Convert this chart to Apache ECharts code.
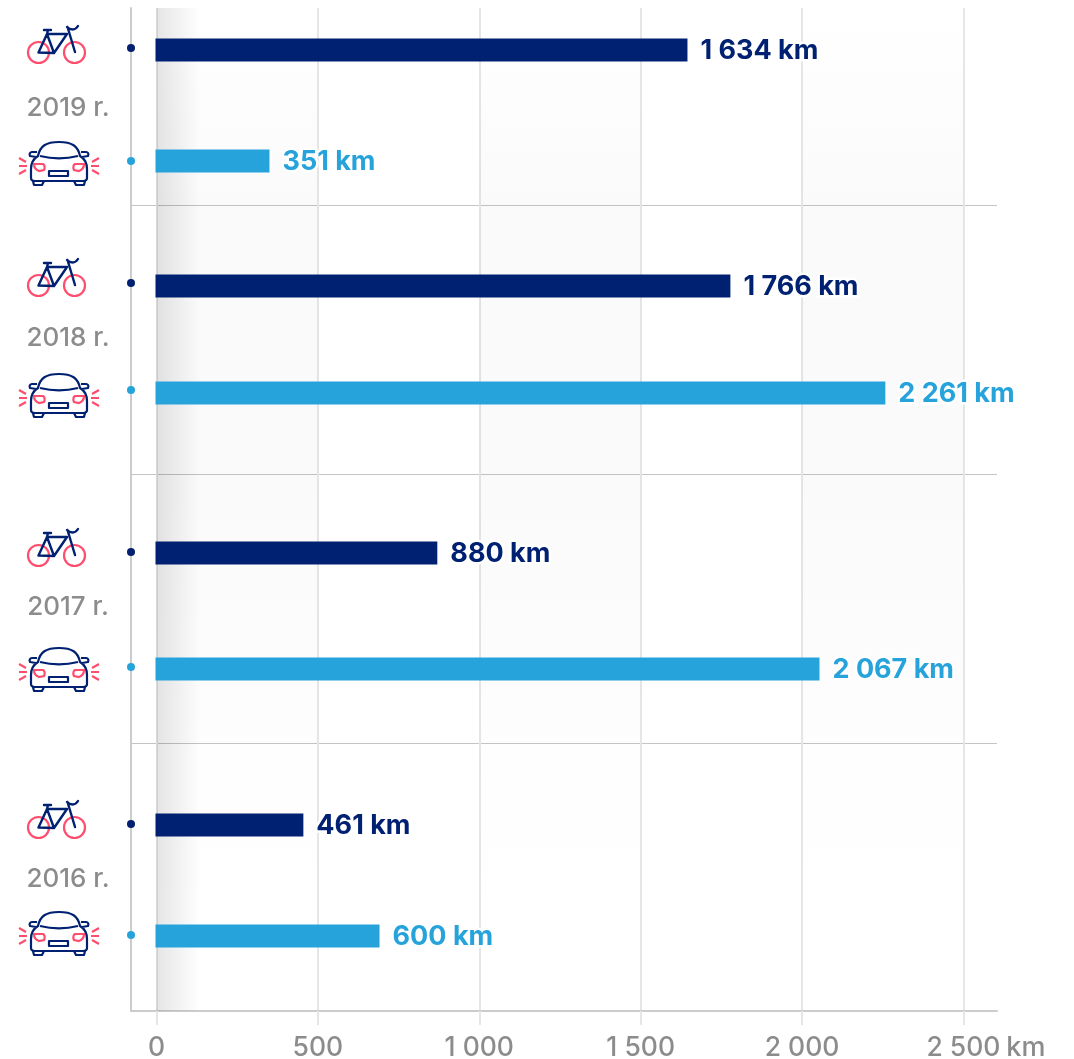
<!DOCTYPE html>
<html>
<head>
<meta charset="utf-8">
<style>html,body{margin:0;padding:0;background:#fff}#chart{width:1074px;height:1059px}</style>
<script src="https://cdn.jsdelivr.net/npm/echarts@6/dist/echarts.min.js"></script>
</head>
<body>
<div id="chart"></div>
<script>
const years = ['2019 r.', '2018 r.', '2017 r.', '2016 r.']
// bar lengths, the printed labels do not always agree with them
const bikeValues = [1645, 1778, 870, 455]
const carValues = [350, 2258, 2054, 691]
const bikeLabels = ['1 634 km', '1 766 km', '880 km', '461 km']
const carLabels = ['351 km', '2 261 km', '2 067 km', '600 km']
// vertical scale runs top to bottom, 8 to 1011
const bikeRows = [50, 286, 553, 825]
const carRows = [161, 393, 669, 936]
const yearRows = [108, 338, 607, 879]
const bikeDots = [48, 283, 552, 824]
const carDots = [161, 390, 667, 935]
const bikeIconRows = [47, 280, 550, 822]
const carIconRows = [164, 396, 670, 934]
const separators = [205, 474, 743]
const xTicks = [0, 500, 1000, 1500, 2000, 2500]
const tickLabels = ['0', '500', '1 000', '1 500', '2 000', '2 500']
const fadeBand = [0, 136]
const shadeBands = [[0, 500], [1000, 1500], [2000, 2500]]

const NAVY = '#002072'
const BLUE = '#27a3dc'
const RED = '#ff4d6d'
const GREY = '#8c8c8c'
const xMin = -79
const xMax = 2604
const font = 'Inter, "Open Sans", sans-serif'

function iconBike() {
  const frame = 'M38.5 52.5 L47 34 L67 34 L54 53 L38.5 52.5 M47 34 L54 53 M44 30 L51 30 M48 30 L47 34 M67.5 27 L75 52 M67 27 C70 30 75 31 78 26'
  return [
    { type: 'circle', shape: { cx: 38.5, cy: 52.5, r: 10.5 }, style: { fill: 'none', stroke: RED, lineWidth: 2.2 } },
    { type: 'circle', shape: { cx: 74.5, cy: 52.5, r: 10.5 }, style: { fill: 'none', stroke: RED, lineWidth: 2.2 } },
    { type: 'path', shape: { pathData: frame }, style: { fill: 'none', stroke: NAVY, lineWidth: 2.4, lineJoin: 'round', lineCap: 'round' } },
  ]
}

function iconCar() {
  const body = 'M38 156 C40 146 46 142 59 142 C72 142 78 146 80 156 C85 159 87 163 87 169 L87 178 C87 180 85 181 83 181 L35 181 C33 181 31 180 31 178 L31 169 C31 163 33 159 38 156 Z ' +
    'M37 152 L32 152 C30 152 29 154 30 156 L36 157 M81 152 L86 152 C88 152 89 154 88 156 L82 157 ' +
    'M40 156 C52 159 66 159 78 156 ' +
    'M49 171 L68 171 L68 176 L49 176 Z ' +
    'M33 181 L34 185 L42 185 L44 181 M74 181 L76 185 L84 185 L85 181'
  const lamps = 'M34 164 L43 164 C45 165 45 168 44 170 L39 171 C36 170 34 168 34 164 Z M84 164 L75 164 C73 165 73 168 74 170 L79 171 C82 170 84 168 84 164 Z'
  const rays = 'M19 158 L26 162 M19 166 L27 166 M19 174 L26 170 M99 158 L92 162 M99 166 L91 166 M99 174 L92 170'
  return [
    { type: 'path', shape: { pathData: body }, style: { fill: 'none', stroke: NAVY, lineWidth: 2.2, lineJoin: 'round' } },
    { type: 'path', shape: { pathData: lamps }, style: { fill: 'none', stroke: RED, lineWidth: 2.2 } },
    { type: 'path', shape: { pathData: rays }, style: { fill: 'none', stroke: RED, lineWidth: 2.2 } },
  ]
}

function barSeries(name, values, rows, labels, color) {
  return {
    name,
    type: 'custom',
    coordinateSystem: 'cartesian2d',
    clip: false,
    z: 5,
    data: values.map((v, i) => [v, rows[i], labels[i]]),
    encode: { x: 0, y: 1 },
    renderItem: (params, api) => {
      const start = api.coord([0, api.value(1)])
      const end = api.coord([api.value(0), api.value(1)])
      return {
        type: 'group',
        children: [
          { type: 'rect', shape: { x: start[0] - 1, y: start[1] - 11.5, width: end[0] - start[0] + 1, height: 23 }, style: { fill: color } },
          {
            type: 'text',
            x: end[0] + 13,
            y: start[1] + 1,
            style: {
              text: labels[params.dataIndex],
              fill: color,
              font: '700 27px ' + font,
              textVerticalAlign: 'middle',
              stroke: '#fff',
              lineWidth: 5,
              strokeFirst: true,
            },
          },
        ],
      }
    },
  }
}

function iconSeries(name, rows, build, refY) {
  return {
    name,
    type: 'custom',
    clip: false,
    silent: true,
    data: rows.map(r => [0, r]),
    encode: { x: 0, y: 1 },
    renderItem: (params, api) => {
      const p = api.coord([0, api.value(1)])
      // icons are drawn at their first row, moved down to each later one
      return { type: 'group', y: p[1] - refY, children: build() }
    },
  }
}

const chart = echarts.init(document.getElementById('chart'), null, { renderer: 'canvas' })
chart.setOption({
  animation: false,
  backgroundColor: '#fff',
  grid: { left: 131, right: 77, top: 8, bottom: 48, outerBoundsMode: 'none' },
  xAxis: {
    type: 'value',
    min: xMin,
    max: xMax,
    name: 'km',
    nameLocation: 'end',
    nameGap: 5,
    nameTextStyle: {
      color: GREY,
      fontFamily: font,
      fontSize: 27,
      fontWeight: 500,
      align: 'left',
      verticalAlign: 'top',
      padding: [23, 0, 0, 0],
    },
    axisLine: { show: true, onZero: false, lineStyle: { color: '#cccccc', width: 2 } },
    axisTick: { show: true, customValues: xTicks, length: 14, lineStyle: { color: '#e6e6e6', width: 2 } },
    axisLabel: {
      customValues: xTicks,
      margin: 24,
      color: GREY,
      fontFamily: font,
      fontSize: 26.5,
      fontWeight: 500,
      formatter: v => tickLabels[xTicks.indexOf(v)],
    },
    splitLine: { show: true, lineStyle: { color: '#e6e6e6', width: 2 } },
  },
  yAxis: {
    type: 'value',
    inverse: true,
    min: 8,
    max: 1011,
    axisLine: { show: true, onZero: false, lineStyle: { color: '#cccccc', width: 2 } },
    axisTick: { show: false, customValues: separators },
    axisLabel: { show: false, customValues: separators },
    splitLine: { show: true, lineStyle: { color: '#c4c4c4', width: 1 } },
  },
  series: [
    {
      name: 'shade',
      type: 'custom',
      silent: true,
      z: 0,
      data: shadeBands,
      encode: { x: [0, 1] },
      renderItem: (params, api) => {
        const a = api.coord([api.value(0), 8])
        const b = api.coord([api.value(1), 1011])
        return {
          type: 'rect',
          shape: { x: a[0], y: a[1], width: b[0] - a[0], height: b[1] - a[1] },
          style: {
            fill: new echarts.graphic.LinearGradient(0, 0, 0, 1, [
              { offset: 0, color: 'rgba(0,0,0,0)' },
              { offset: 0.2, color: 'rgba(0,0,0,0.02)' },
              { offset: 0.46, color: 'rgba(0,0,0,0.02)' },
              { offset: 0.66, color: 'rgba(0,0,0,0.01)' },
              { offset: 0.76, color: 'rgba(0,0,0,0.004)' },
              { offset: 1, color: 'rgba(0,0,0,0)' },
            ]),
          },
        }
      },
    },
    {
      name: 'fade',
      type: 'custom',
      silent: true,
      z: 1,
      data: [fadeBand],
      encode: { x: [0, 1] },
      renderItem: (params, api) => {
        const a = api.coord([api.value(0), 8])
        const b = api.coord([api.value(1), 1011])
        return {
          type: 'rect',
          shape: { x: a[0], y: a[1], width: b[0] - a[0], height: b[1] - a[1] },
          style: {
            fill: new echarts.graphic.LinearGradient(0, 0, 1, 0, [
              { offset: 0, color: 'rgba(0,0,0,0.1)' },
              { offset: 1, color: 'rgba(0,0,0,0)' },
            ]),
          },
        }
      },
    },
    barSeries('Rower', bikeValues, bikeRows, bikeLabels, NAVY),
    barSeries('Samochód', carValues, carRows, carLabels, BLUE),
    {
      name: 'bikeDots',
      type: 'scatter',
      symbolSize: 8,
      itemStyle: { color: NAVY, opacity: 1 },
      data: bikeDots.map(r => [xMin, r]),
      z: 6,
    },
    {
      name: 'carDots',
      type: 'scatter',
      symbolSize: 8,
      itemStyle: { color: BLUE, opacity: 1 },
      data: carDots.map(r => [xMin, r]),
      z: 6,
    },
    iconSeries('bikeIcons', bikeIconRows, iconBike, bikeIconRows[0]),
    iconSeries('carIcons', carIconRows, iconCar, carIconRows[0]),
    {
      name: 'years',
      type: 'custom',
      clip: false,
      silent: true,
      data: yearRows.map(r => [0, r]),
      encode: { x: 0, y: 1 },
      renderItem: (params, api) => {
        const p = api.coord([0, api.value(1)])
        return {
          type: 'text',
          x: 68,
          y: p[1],
          style: {
            text: years[params.dataIndex],
            fill: GREY,
            font: '500 26px ' + font,
            textAlign: 'center',
            textVerticalAlign: 'middle',
          },
        }
      },
    },
  ],
})
</script>
</body>
</html>
